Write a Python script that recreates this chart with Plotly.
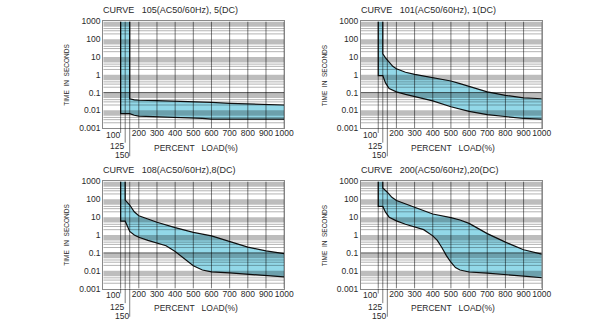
import plotly.graph_objects as go

# ---------------- data ----------------
curve_titles = [
    "CURVE   105(AC50/60Hz), 5(DC)",
    "CURVE   101(AC50/60Hz), 1(DC)",
    "CURVE   108(AC50/60Hz),8(DC)",
    "CURVE   200(AC50/60Hz),20(DC)",
]

load_ticks = [200, 300, 400, 500, 600, 700, 800, 900, 1000]
load_tick_text = ["200", "300", "400", "500", "600", "700", "800", "900", "1000"]
load_grid = [100, 125, 150, 200, 300, 400, 500, 600, 700, 800, 900, 1000]
low_load_labels = [100, 125, 150]

time_ticks = [0.001, 0.01, 0.1, 1, 10, 100, 1000]
time_tick_text = ["0.001", "0.01", "0.1", "1", "10", "100", "1000"]
decade_exponents = [-3, -2, -1, 0, 1, 2]
minor_multipliers = [2, 3, 4]

# curve 105 (fast)
c105_lower_load = [100, 100, 150, 175, 200, 300, 400, 500, 550, 600, 700, 800, 900, 1000]
c105_lower_time = [1000, 0.0065, 0.0065, 0.0053, 0.0048, 0.0045, 0.0042, 0.0039, 0.0035, 0.0032, 0.0032, 0.0032, 0.0032, 0.0032]
c105_upper_load = [150, 150, 175, 200, 300, 400, 500, 600, 700, 800, 900, 1000]
c105_upper_time = [1000, 0.045, 0.039, 0.037, 0.035, 0.033, 0.031, 0.028, 0.025, 0.023, 0.021, 0.02]

# curve 101
c101_lower_load = [100, 100, 125, 130, 140, 160, 180, 200, 250, 300, 400, 500, 600, 700, 800, 900, 1000]
c101_lower_time = [1000, 0.9, 0.9, 0.7, 0.35, 0.17, 0.13, 0.11, 0.08, 0.062, 0.034, 0.016, 0.0087, 0.0058, 0.0043, 0.0035, 0.0032]
c101_upper_load = [125, 125, 140, 160, 180, 200, 250, 300, 400, 500, 550, 600, 700, 800, 900, 1000]
c101_upper_time = [1000, 15, 9, 5, 3, 2.2, 1.4, 1.05, 0.7, 0.45, 0.32, 0.22, 0.11, 0.07, 0.05, 0.045]

# curve 108
c108_lower_load = [100, 100, 125, 135, 150, 175, 200, 250, 300, 350, 400, 450, 500, 550, 600, 700, 800, 900, 1000]
c108_lower_time = [1000, 6, 6, 3.5, 1.6, 1.0, 0.75, 0.5, 0.36, 0.25, 0.12, 0.045, 0.019, 0.011, 0.0087, 0.0077, 0.0064, 0.0054, 0.0045]
c108_upper_load = [125, 125, 150, 175, 200, 250, 300, 400, 500, 600, 700, 800, 900, 1000]
c108_upper_time = [1000, 90, 48, 20, 12, 7.5, 5.2, 2.6, 1.4, 0.9, 0.45, 0.21, 0.13, 0.09]

# curve 200 (slow)
c200_lower_load = [100, 100, 125, 140, 160, 200, 250, 300, 350, 400, 425, 450, 475, 500, 525, 550, 600, 700, 800, 900, 1000]
c200_lower_time = [1000, 40, 40, 19, 10, 6.2, 4.0, 2.9, 2.0, 0.9, 0.5, 0.2, 0.07, 0.03, 0.015, 0.011, 0.0085, 0.0074, 0.006, 0.005, 0.0041]
c200_upper_load = [125, 125, 150, 175, 200, 250, 300, 400, 500, 550, 600, 650, 700, 800, 900, 1000]
c200_upper_time = [1000, 430, 250, 130, 85, 55, 36, 15, 9.5, 7, 4.5, 2.3, 1.2, 0.4, 0.15, 0.085]

curves = [
    (c105_lower_load, c105_lower_time, c105_upper_load, c105_upper_time),
    (c101_lower_load, c101_lower_time, c101_upper_load, c101_upper_time),
    (c108_lower_load, c108_lower_time, c108_upper_load, c108_upper_time),
    (c200_lower_load, c200_lower_time, c200_upper_load, c200_upper_time),
]

# ---------------- layout geometry (pixels) ----------------
W, H = 596, 329
panels = [  # left, right, top, bottom
    (105, 289, 17, 127),
    (367, 551, 17, 127),
    (105, 289, 182, 292.5),
    (367, 551, 182, 292.5),
]
X_MIN, X_MAX = 4.2, 1000
Y_MIN, Y_MAX = 0.001, 1000

FONT = "Liberation Sans Narrow, Arial Narrow, Liberation Sans, Arial, sans-serif"
TXT = "#2a2a2a"
FILL = "#92d8e8"

fig = go.Figure()
shapes = []
annotations = []
layout_axes = {}

for i, ((l, r, t, b), (lx, ly, ux, uy), title) in enumerate(zip(panels, curves, curve_titles)):
    n = i + 1
    xa = "x" if n == 1 else f"x{n}"
    ya = "y" if n == 1 else f"y{n}"
    xkey = "xaxis" if n == 1 else f"xaxis{n}"
    ykey = "yaxis" if n == 1 else f"yaxis{n}"

    layout_axes[xkey] = dict(
        domain=[l / W, r / W], anchor=ya, range=[X_MIN, X_MAX],
        tickvals=load_ticks, ticktext=load_tick_text, ticks="", tickangle=0,
        ticklabelstandoff=-3,
        showgrid=False, zeroline=False, showline=True, mirror=True,
        linecolor="#8a8a8a", linewidth=1,
        tickfont=dict(family=FONT, size=8.5, color=TXT),
    )
    layout_axes[ykey] = dict(
        domain=[1 - b / H, 1 - t / H], anchor=xa, type="log", range=[-3, 3],
        tickvals=time_ticks, ticktext=time_tick_text, ticks="", tickangle=0,
        showgrid=False, zeroline=False, showline=True, mirror=True,
        linecolor="#8a8a8a", linewidth=1,
        tickfont=dict(family=FONT, size=8.5, color=TXT),
    )

    # shaded operating band (closed polygon: lower edge, then upper edge reversed)
    px = list(lx) + list(reversed(ux))
    py = list(ly) + list(reversed(uy))
    fig.add_trace(go.Scatter(x=px, y=py, xaxis=xa, yaxis=ya, mode="lines",
                             fill="toself", fillcolor=FILL, line=dict(width=0),
                             hoverinfo="skip", showlegend=False))
    for cx, cy in ((lx, ly), (ux, uy)):
        fig.add_trace(go.Scatter(x=cx, y=cy, xaxis=xa, yaxis=ya, mode="lines",
                                 line=dict(color="#111111", width=1.2),
                                 hoverinfo="skip", showlegend=False))

    # log-paper grey bands and minor rules, drawn over the fill so it darkens
    for d in decade_exponents:
        top = 10.0 ** (d + 1)
        shapes.append(dict(type="rect", layer="above", xref=xa, yref=ya,
                           x0=X_MIN, x1=X_MAX, y0=0.5 * top, y1=top,
                           fillcolor="rgba(0,0,0,0.26)", line=dict(width=0)))
        for m in minor_multipliers:
            v = m * 10.0 ** d
            shapes.append(dict(type="line", layer="above", xref=xa, yref=ya,
                               x0=X_MIN, x1=X_MAX, y0=v, y1=v,
                               line=dict(color="rgba(0,0,0,0.3)", width=1)))
    shapes.append(dict(type="line", layer="above", xref=xa, yref=ya,
                       x0=X_MIN, x1=X_MAX, y0=0.1, y1=0.1,
                       line=dict(color="rgba(0,0,0,0.6)", width=1)))
    # vertical load rules
    for g in load_grid:
        shapes.append(dict(type="line", layer="above", xref=xa, yref=ya,
                           x0=g, x1=g, y0=Y_MIN, y1=Y_MAX,
                           line=dict(color="rgba(0,0,0,0.5)", width=1)))
    # 100/125/150 rules continue below the axis to their labels
    for g, drop, dy in zip(low_load_labels, (5, 15, 29), (7, 18.5, 28)):
        shapes.append(dict(type="line", layer="above", xref=xa, yref="paper",
                           x0=g, x1=g, y0=1 - (b + drop) / H, y1=1 - b / H,
                           line=dict(color="rgba(0,0,0,0.5)", width=1)))
        annotations.append(dict(text=str(g), xref=xa, yref="paper", x=g,
                                y=1 - (b + dy) / H, xanchor="right", yanchor="middle",
                                xshift=1, showarrow=False,
                                font=dict(family=FONT, size=8.5, color=TXT)))

    # panel title, axis titles
    annotations.append(dict(text=title, xref="paper", yref="paper",
                            x=(l - 2) / W, y=1 - (t - 12) / H, xanchor="left", yanchor="middle",
                            showarrow=False, font=dict(family=FONT, size=9, color=TXT)))
    annotations.append(dict(text="PERCENT &nbsp; LOAD(%)", xref="paper", yref="paper",
                            x=(l + 94) / W, y=1 - (b + 20) / H, xanchor="center", yanchor="middle",
                            showarrow=False, font=dict(family=FONT, size=8.5, color=TXT)))
    annotations.append(dict(text="TIME  IN  SECONDS", xref="paper", yref="paper",
                            x=(l - 37) / W, y=1 - (t + 55) / H, xanchor="center", yanchor="middle",
                            textangle=-90, showarrow=False,
                            font=dict(family=FONT, size=6.5, color=TXT)))

fig.update_layout(
    width=W, height=H, margin=dict(l=0, r=0, t=0, b=0),
    paper_bgcolor="white", plot_bgcolor="white",
    shapes=shapes, annotations=annotations, **layout_axes,
)

fig.write_html("out.html")
